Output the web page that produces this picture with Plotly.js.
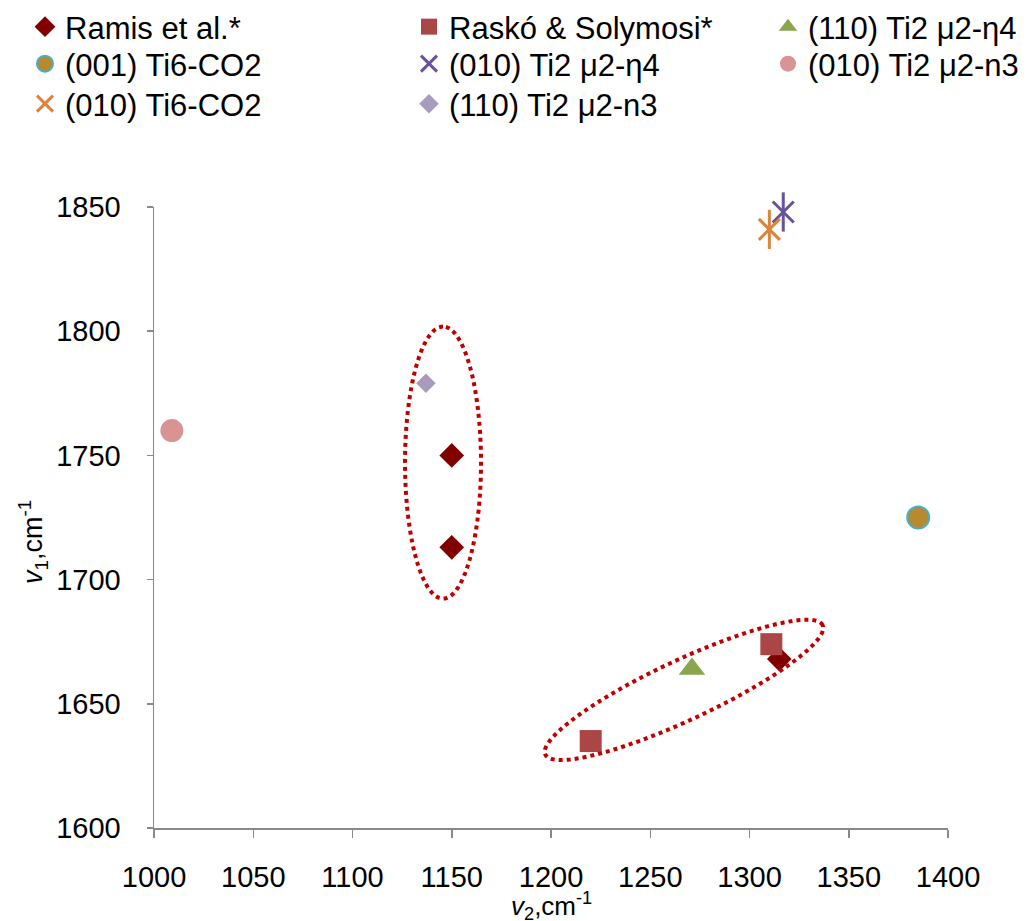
<!DOCTYPE html>
<html>
<head>
<meta charset="utf-8">
<script src="https://cdn.plot.ly/plotly-3.0.1.min.js"></script>
<style>html,body{margin:0;padding:0;background:#fff;}#chart{width:1028px;height:921px;}</style>
</head>
<body>
<div id="chart"></div>
<script>
// ---- data (v2 = x, v1 = y, cm-1) ----
const seriesNames = ["Ramis et al.*", "Raskó & Solymosi*", "(110) Ti2 μ2-η4", "(001) Ti6-CO2",
                     "(010) Ti2 μ2-η4", "(010) Ti2 μ2-n3", "(010) Ti6-CO2", "(110) Ti2 μ2-n3"];
const ramisX = [1150, 1150, 1315];
const ramisY = [1750, 1713, 1668];
const raskoX = [1220, 1311];
const raskoY = [1635, 1674];
const ti2_110_eta4X = [1271];
const ti2_110_eta4Y = [1664];
const ti6_001X = [1385];
const ti6_001Y = [1725];
const ti2_010_eta4X = [1317];
const ti2_010_eta4Y = [1848];
const ti2_010_n3X = [1009];
const ti2_010_n3Y = [1760];
const ti6_010X = [1310];
const ti6_010Y = [1841];
const ti2_110_n3X = [1137];
const ti2_110_n3Y = [1779];
const xTicks = [1000, 1050, 1100, 1150, 1200, 1250, 1300, 1350, 1400];
const yTicks = [1600, 1650, 1700, 1750, 1800, 1850];
const xTitle = "<i>v</i><sub>2</sub>,cm<sup>-1</sup>";
const yTitle = "<i>v</i><sub>1</sub>,cm<sup>-1</sup>";

const FONT = "Liberation Sans, Arial, sans-serif";
const W = 1028, H = 921;
const M = {l: 154, r: 80, t: 207, b: 93, autoexpand: false};
const xRange = [1000, 1400], yRange = [1600, 1850];
const pxX = (W - M.l - M.r) / (xRange[1] - xRange[0]);
const pxY = (H - M.t - M.b) / (yRange[1] - yRange[0]);

function ellipsePath(cx, cy, aPx, bPx, angDeg) {
  const th = angDeg * Math.PI / 180;
  let d = "";
  const n = 120;
  for (let i = 0; i <= n; i++) {
    const t = 2 * Math.PI * i / n;
    const ox = aPx * Math.cos(t) * Math.cos(th) - bPx * Math.sin(t) * Math.sin(th);
    const oy = aPx * Math.cos(t) * Math.sin(th) + bPx * Math.sin(t) * Math.cos(th);
    d += (i === 0 ? "M" : "L") + (cx + ox / pxX).toFixed(3) + "," + (cy + oy / pxY).toFixed(3);
  }
  return d + "Z";
}

function tr(x, y, name, marker, legend, extra) {
  return Object.assign({type: "scatter", mode: "markers", x: x, y: y, name: name,
    marker: marker, legend: legend, cliponaxis: false, hoverinfo: "x+y+name"}, extra || {});
}

const traces = [
  tr(ramisX, ramisY, seriesNames[0], {symbol: "diamond", size: 19, color: "#800000"}, "legend"),
  tr(raskoX, raskoY, seriesNames[1], {symbol: "square", size: 22, color: "#AB4646"}, "legend2"),
  tr(ti2_110_eta4X, ti2_110_eta4Y, seriesNames[2], {symbol: "triangle-up", size: 23, color: "#89A54E"}, "legend3"),
  tr(ti6_001X, ti6_001Y, seriesNames[3], {symbol: "circle", size: 22, color: "#B8892E", line: {color: "#4BACC6", width: 2}}, "legend4"),
  tr(ti2_010_eta4X, ti2_010_eta4Y, seriesNames[4], {symbol: "x-thin-open", size: 21, color: "#6A519D", line: {color: "#6A519D", width: 3}}, "legend5"),
  tr(ti2_010_n3X, ti2_010_n3Y, seriesNames[5], {symbol: "circle", size: 23, color: "#D79493"}, "legend6"),
  tr(ti6_010X, ti6_010Y, seriesNames[6], {symbol: "x-thin-open", size: 21, color: "#DB843D", line: {color: "#DB843D", width: 3}}, "legend7"),
  tr(ti2_110_n3X, ti2_110_n3Y, seriesNames[7], {symbol: "diamond", size: 15, color: "#A99BBD"}, "legend8"),
  // vertical strokes completing the 6-arm star markers
  tr(ti2_010_eta4X, ti2_010_eta4Y, seriesNames[4], {symbol: "line-ns-open", size: 28, color: "#6A519D", line: {color: "#6A519D", width: 3}}, "legend5", {showlegend: false}),
  tr(ti6_010X, ti6_010Y, seriesNames[6], {symbol: "line-ns-open", size: 28, color: "#DB843D", line: {color: "#DB843D", width: 3}}, "legend7", {showlegend: false})
];

// legend entry placement: [left px, top px]
const colLeft = [25, 409, 768];
const rowTop = [-3, 37, 77];
function leg(col, row) {
  return {orientation: "v", xref: "container", yref: "container", xanchor: "left", yanchor: "top",
    x: colLeft[col] / W, y: 1 - rowTop[row] / H, bgcolor: "rgba(0,0,0,0)", borderwidth: 0,
    itemwidth: 30, font: {family: FONT, size: 31, color: "#000"}};
}

const layout = {
  width: W, height: H,
  margin: M,
  paper_bgcolor: "#fff", plot_bgcolor: "#fff",
  font: {family: FONT, size: 28, color: "#000"},
  showlegend: true,
  legend: leg(0, 0), legend2: leg(1, 0), legend3: leg(2, 0),
  legend4: leg(0, 1), legend5: leg(1, 1), legend6: leg(2, 1),
  legend7: leg(0, 2), legend8: leg(1, 2),
  xaxis: {
    range: xRange, tickvals: xTicks, ticktext: xTicks.map(String), automargin: false,
    showgrid: false, zeroline: false, showline: true, linecolor: "#898989", linewidth: 1.5,
    ticks: "outside", ticklen: 8, tickcolor: "#898989", tickwidth: 1.5,
    tickfont: {family: FONT, size: 29, color: "#000"}, ticklabelstandoff: 15
  },
  yaxis: {
    range: yRange, tickvals: yTicks, ticktext: yTicks.map(String), automargin: false,
    showgrid: false, zeroline: false, showline: true, linecolor: "#898989", linewidth: 1.5,
    ticks: "outside", ticklen: 6, tickcolor: "#898989", tickwidth: 1.5,
    tickfont: {family: FONT, size: 29, color: "#000"}, ticklabelstandoff: 20
  },
  annotations: [
    {text: xTitle, xref: "paper", yref: "paper", x: 0.5, y: 0, xanchor: "center", yanchor: "middle",
     yshift: -78, showarrow: false, font: {family: FONT, size: 26, color: "#000"}},
    {text: yTitle, xref: "paper", yref: "paper", x: 0, y: (828 - 542) / 621, xanchor: "center", yanchor: "middle",
     xshift: -121, textangle: -90, showarrow: false, font: {family: FONT, size: 27, color: "#000"}}
  ],
  shapes: [
    {type: "path", xref: "x", yref: "y", path: ellipsePath(1145.6, 1747.1, 136, 38, 90),
     line: {color: "#C00000", width: 4, dash: "dot"}, fillcolor: "rgba(0,0,0,0)", layer: "above"},
    {type: "path", xref: "x", yref: "y", path: ellipsePath(1267, 1655.6, 153, 30, 25),
     line: {color: "#C00000", width: 4, dash: "dot"}, fillcolor: "rgba(0,0,0,0)", layer: "above"}
  ]
};

Plotly.newPlot("chart", traces, layout, {displayModeBar: false, staticPlot: true});
</script>
</body>
</html>
